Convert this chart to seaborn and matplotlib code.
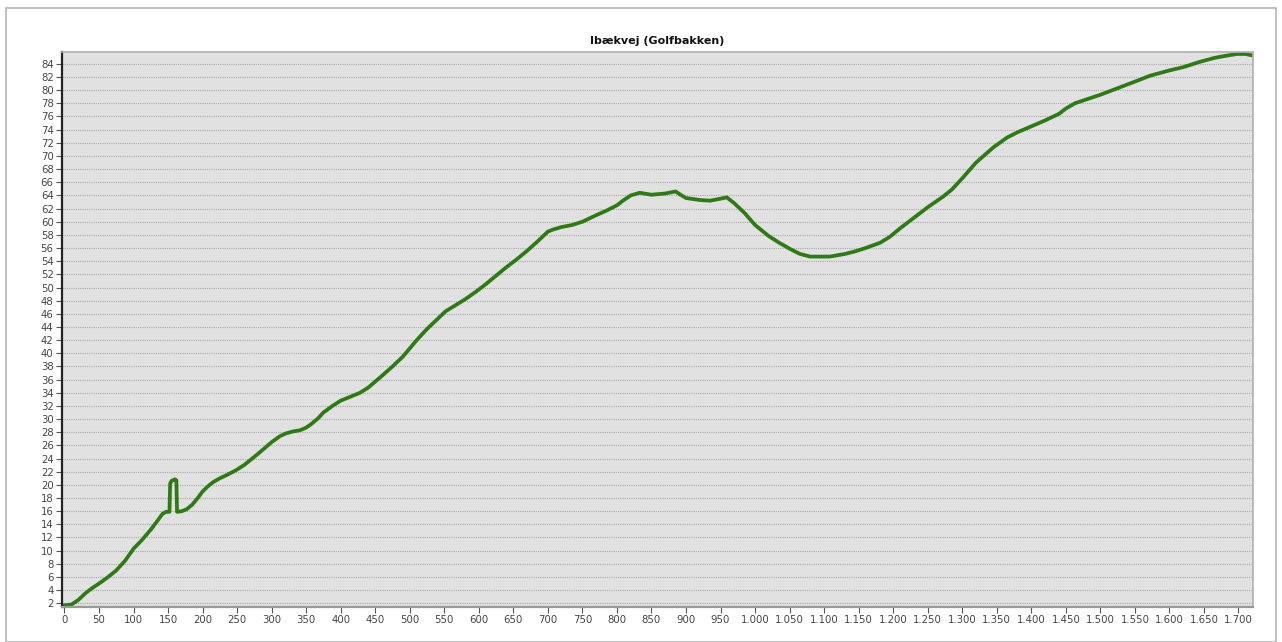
import pandas as pd
import matplotlib.pyplot as plt
import seaborn as sns
from matplotlib.ticker import FuncFormatter, MultipleLocator
from matplotlib.patches import Rectangle

# Højdeprofil – afstand (m) og kote (m)
distance = [0, 10, 20, 30, 40, 50, 62, 75, 88, 100, 112, 125, 135, 142, 147, 152, 153, 155, 160, 162, 163,
            170, 177, 185, 193, 200, 208, 215, 225, 235, 248, 260, 280, 300, 312, 320, 330, 341, 350,
            358, 367, 375, 388, 400, 414, 428, 440, 460, 475, 490, 510, 525, 540, 552, 563, 580, 595,
            610, 625, 640, 655, 670, 685, 700, 707, 720, 735, 750, 770, 785, 800, 810, 820, 833, 850,
            870, 885, 892, 900, 920, 935, 950, 959, 970, 985, 1000, 1020, 1035, 1050, 1065, 1080, 1108,
            1130, 1145, 1160, 1181, 1195, 1210, 1230, 1250, 1272, 1285, 1300, 1320, 1345, 1365, 1380,
            1400, 1420, 1440, 1450, 1463, 1480, 1500, 1530, 1550, 1572, 1600, 1620, 1644, 1665, 1680,
            1698, 1710, 1719]
elevation = [1.7, 1.8, 2.5, 3.5, 4.3, 5.0, 5.9, 7.0, 8.5, 10.3, 11.6, 13.2, 14.6, 15.6, 15.9, 15.9, 20.2,
             20.6, 20.85, 20.7, 15.9,
             16.0, 16.3, 17.0, 18.0, 19.0, 19.8, 20.4, 21.0, 21.5, 22.2, 23.0, 24.7, 26.5, 27.4, 27.8,
             28.1, 28.3, 28.7, 29.3, 30.1, 31.0, 32.0, 32.8, 33.4, 34.0, 34.8, 36.6, 38.0, 39.5, 42.0,
             43.7, 45.2, 46.4, 47.1, 48.2, 49.3, 50.5, 51.8, 53.1, 54.3, 55.6, 57.0, 58.5, 58.8, 59.2,
             59.5, 60.0, 61.0, 61.7, 62.5, 63.3, 64.0, 64.4, 64.1, 64.3, 64.6, 64.1, 63.6, 63.3, 63.2,
             63.5, 63.7, 62.8, 61.3, 59.5, 57.8, 56.8, 55.9, 55.1, 54.7, 54.7,
             55.1, 55.5, 56.0, 56.8, 57.7, 59.0, 60.6, 62.2, 63.8, 64.9, 66.6, 69.0, 71.3, 72.8, 73.6,
             74.5, 75.4, 76.4, 77.2, 78.0, 78.6, 79.3, 80.5, 81.3, 82.2, 83.0, 83.5, 84.3, 84.9, 85.2,
             85.5, 85.5, 85.3]

df = pd.DataFrame({"afstand": distance, "kote": elevation})

sns.set_theme(style="white")
GREEN = "#2f7a16"
PANEL = "#e1e1e1"

fig = plt.figure(figsize=(12.82, 6.42), dpi=100)
fig.patches.append(Rectangle((6 / 1282, 0), 1270 / 1282, 1 - 8 / 642,
                             transform=fig.transFigure, fill=False,
                             edgecolor="#b4b4b4", linewidth=1.2))

ax = fig.add_axes([62 / 1282, 1 - 606.7 / 642, (1253 - 62) / 1282, (606.7 - 52) / 642])
ax.set_facecolor(PANEL)

sns.lineplot(data=df, x="afstand", y="kote", ax=ax, sort=False, estimator=None,
             color=GREEN, linewidth=2.7, solid_joinstyle="round", solid_capstyle="round")

ax.set_xlim(-3.6, 1721)
ax.set_ylim(1.48, 85.8)
ax.xaxis.set_major_locator(MultipleLocator(50))
ax.yaxis.set_major_locator(MultipleLocator(2))
ax.xaxis.set_major_formatter(FuncFormatter(lambda v, p: f"{int(v):,}".replace(",", ".")))
ax.set_xlabel("")
ax.set_ylabel("")

ax.grid(axis="y", color="#a8a8a8", linestyle=(0, (1, 1)), linewidth=0.8)
ax.grid(axis="x", visible=False)
ax.tick_params(axis="both", which="major", labelsize=7.3, labelcolor="#444444",
               length=4, width=0.8, color="#555555", direction="out", pad=2,
               left=True, bottom=True)

ax.spines["left"].set_color("#222222")
ax.spines["left"].set_linewidth(1.6)
ax.spines["bottom"].set_color("#999999")
ax.spines["bottom"].set_linewidth(1.6)
for s in ["top", "right"]:
    ax.spines[s].set_color("#b0b0b0")
    ax.spines[s].set_linewidth(1.2)

ax.set_title("Ibækvej (Golfbakken)", fontsize=8, fontweight="bold", color="#111111", pad=6)

fig.savefig("out.png", dpi=100)
